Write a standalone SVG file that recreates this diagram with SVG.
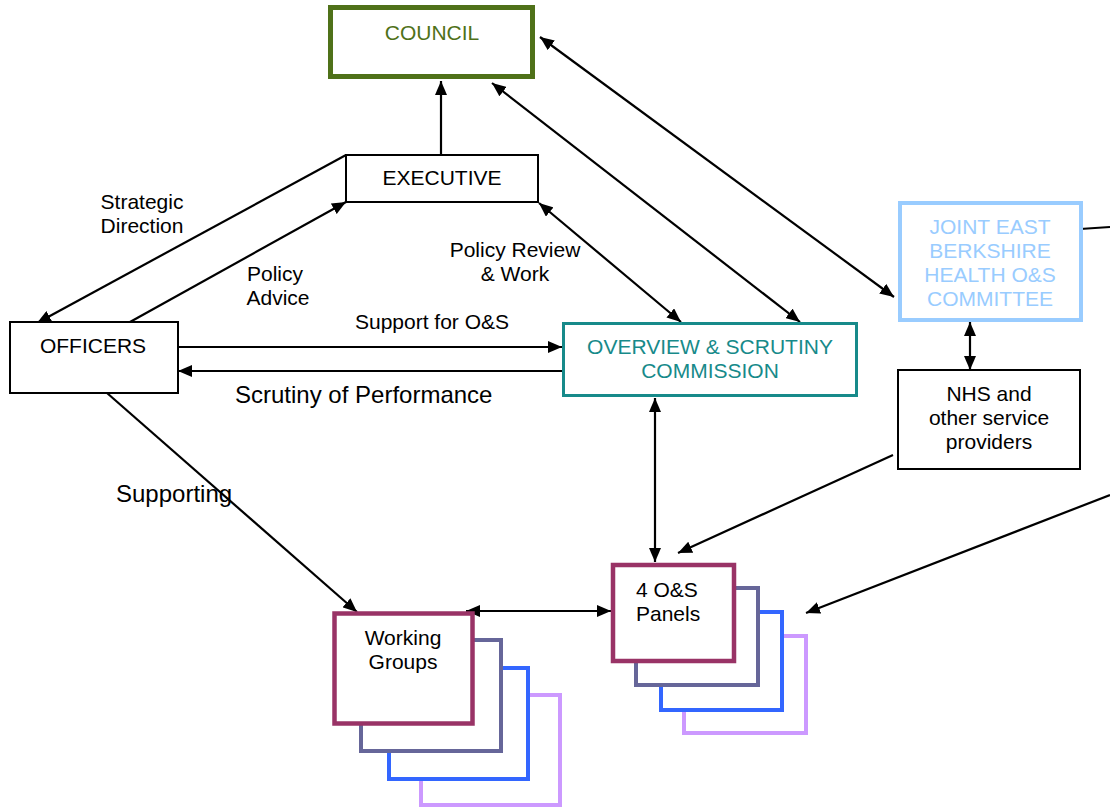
<svg xmlns="http://www.w3.org/2000/svg" width="1110" height="807" viewBox="0 0 1110 807">
<defs>
<marker id="ah" markerUnits="userSpaceOnUse" markerWidth="14" markerHeight="12" viewBox="0 0 14 12" refX="14" refY="6" orient="auto-start-reverse">
<path d="M0,0 L14,6 L0,12 Z" fill="#000"/>
</marker>
<style>
text{font-family:"Liberation Sans",Arial,sans-serif;font-size:21px;fill:#000}
.c{text-anchor:middle}
.big{font-size:24px}
.b{fill:#fff;stroke:#000;stroke-width:2}
.ln{stroke:#000;stroke-width:2.2;fill:none}
.e{marker-end:url(#ah)}
.s{marker-start:url(#ah)}
</style>
</defs>
<rect width="1110" height="807" fill="#fff"/>
<g id="connectors">
<line class="ln e" x1="441" y1="155" x2="441" y2="81"/>
<line class="ln e" x1="346" y1="155" x2="37" y2="323"/>
<line class="ln e" x1="130" y1="322" x2="346" y2="202"/>
<line class="ln e" x1="178" y1="347" x2="562" y2="347"/>
<line class="ln e" x1="562" y1="371" x2="178" y2="371"/>
<line class="ln s e" x1="539" y1="203" x2="681" y2="322"/>
<line class="ln s e" x1="492" y1="83" x2="800" y2="322"/>
<line class="ln s e" x1="540" y1="37" x2="894" y2="297"/>
<line class="ln" x1="1080" y1="229" x2="1110" y2="227"/>
<line class="ln s e" x1="970" y1="322" x2="970" y2="370"/>
<line class="ln e" x1="893" y1="455" x2="678" y2="553"/>
<line class="ln e" x1="1110" y1="495" x2="806" y2="613"/>
<line class="ln s e" x1="655" y1="398" x2="655" y2="562"/>
<line class="ln e" x1="107" y1="393" x2="357" y2="612"/>
<line class="ln s e" x1="466" y1="611" x2="611" y2="611"/>
</g>
<g id="council">
<rect x="330.5" y="7.5" width="202" height="69" fill="#fff" stroke="#4F7119" stroke-width="5"/>
<text class="c" x="432" y="40" style="fill:#4F7119">COUNCIL</text>
</g>
<g id="executive">
<rect class="b" x="346" y="155" width="192" height="47"/>
<text class="c" x="442" y="185">EXECUTIVE</text>
</g>
<g id="officers">
<rect class="b" x="10" y="322" width="168" height="71"/>
<text class="c" x="93" y="353">OFFICERS</text>
</g>
<g id="labels">
<text class="c" x="142" y="209">Strategic</text>
<text class="c" x="142" y="233">Direction</text>
<text class="c" x="275" y="281">Policy</text>
<text class="c" x="278" y="305">Advice</text>
<text class="c" x="515" y="257">Policy Review</text>
<text class="c" x="515" y="281">&amp; Work</text>
<text class="c" x="432" y="329">Support for O&amp;S</text>
<text class="big" x="235" y="403">Scrutiny of Performance</text>
<text class="big" x="116" y="502">Supporting</text>
</g>
<g id="os-commission">
<rect x="563.5" y="323.5" width="293" height="72" fill="#fff" stroke="#178A8A" stroke-width="3"/>
<text class="c" x="710" y="354" style="fill:#178A8A">OVERVIEW &amp; SCRUTINY</text>
<text class="c" x="710" y="378" style="fill:#178A8A">COMMISSION</text>
</g>
<g id="joint">
<rect x="900" y="203" width="181" height="117" fill="#fff" stroke="#99CCFF" stroke-width="4"/>
<text class="c" x="990" y="234" style="fill:#99CCFF">JOINT EAST</text>
<text class="c" x="990" y="258" style="fill:#99CCFF">BERKSHIRE</text>
<text class="c" x="990" y="282" style="fill:#99CCFF">HEALTH O&amp;S</text>
<text class="c" x="990" y="306" style="fill:#99CCFF">COMMITTEE</text>
</g>
<g id="nhs">
<rect class="b" x="898" y="370" width="182" height="99"/>
<text class="c" x="989" y="401">NHS and</text>
<text class="c" x="989" y="425">other service</text>
<text class="c" x="989" y="449">providers</text>
</g>
<g id="working-groups">
<rect x="421" y="695" width="139" height="110" fill="#fff" stroke="#CC99FF" stroke-width="4"/>
<rect x="389" y="668" width="139" height="111" fill="#fff" stroke="#3366FF" stroke-width="4"/>
<rect x="361" y="640" width="140" height="111" fill="#fff" stroke="#666699" stroke-width="4"/>
<rect x="334.5" y="613.5" width="138" height="110" fill="#fff" stroke="#993366" stroke-width="4.5"/>
<text class="c" x="403" y="645">Working</text>
<text class="c" x="403" y="669">Groups</text>
</g>
<g id="panels">
<rect x="684" y="636" width="122" height="97" fill="#fff" stroke="#CC99FF" stroke-width="4"/>
<rect x="661" y="612" width="121" height="98" fill="#fff" stroke="#3366FF" stroke-width="4"/>
<rect x="636" y="588" width="122" height="97" fill="#fff" stroke="#666699" stroke-width="4"/>
<rect x="613" y="565" width="121" height="96" fill="#fff" stroke="#993366" stroke-width="4.5"/>
<text x="636" y="597">4 O&amp;S</text>
<text x="636" y="621">Panels</text>
</g>
</svg>
